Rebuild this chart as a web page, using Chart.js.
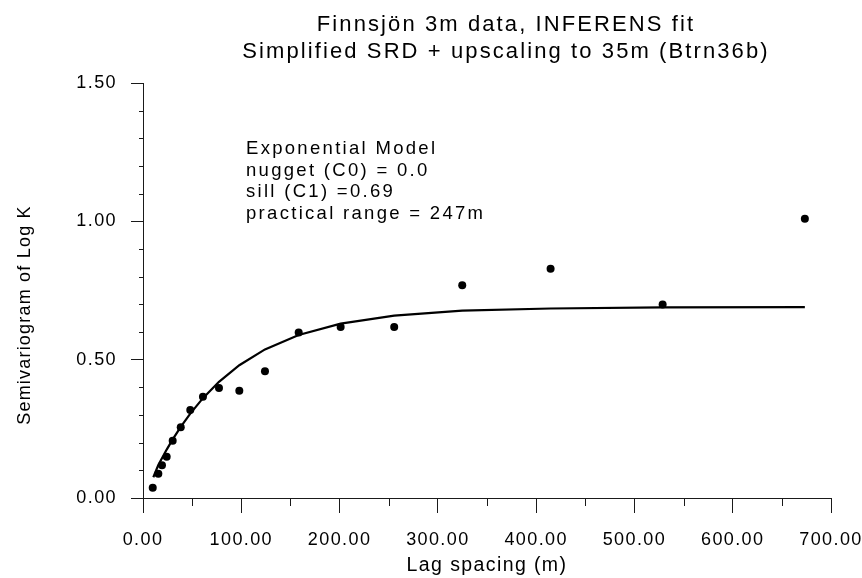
<!DOCTYPE html>
<html>
<head>
<meta charset="utf-8">
<script src="https://cdn.jsdelivr.net/npm/chart.js@4.4.1/dist/chart.umd.min.js"></script>
<style>
html,body{margin:0;padding:0;background:#ffffff;}
#wrap{width:862px;height:578px;}
</style>
</head>
<body>
<div id="wrap"><canvas id="c" width="862" height="578"></canvas></div>
<script>
// ---- data ----
const lagSpacing = [9.9, 15.6, 19.3, 24.1, 30.2, 38.4, 48.1, 61.0, 77.3, 98.0, 124.1, 158.4, 201.1, 255.6, 324.8, 414.7, 528.7, 673.4];
const semivariogram = [0.037, 0.088, 0.118, 0.149, 0.207, 0.256, 0.318, 0.366, 0.398, 0.388, 0.458, 0.598, 0.618, 0.618, 0.769, 0.829, 0.699, 1.009];
const modelLag = [10.5, 15.6, 19.3, 24.1, 30.2, 38.4, 48.1, 61.0, 77.3, 98.0, 124.1, 158.4, 201.1, 255.6, 324.8, 414.7, 528.7, 673.4];
const modelGamma = [0.075, 0.119, 0.144, 0.175, 0.212, 0.257, 0.305, 0.361, 0.420, 0.480, 0.537, 0.589, 0.630, 0.659, 0.677, 0.685, 0.689, 0.690];
const titleLines = ["Finnsjön 3m data, INFERENS fit", "Simplified SRD + upscaling to 35m (Btrn36b)"];
const annotationLines = ["Exponential Model", "nugget (C0) = 0.0", "sill (C1) =0.69", "practical range = 247m"];
const xAxisTitle = "Lag spacing (m)";
const yAxisTitle = "Semivariogram of Log K";
const xRange = [0, 700];
const yRange = [0, 1.5];

const FONT = '"Liberation Sans", Arial, Helvetica, sans-serif';
const INK = '#000000';
const AXIS = '#1a1a1a';

const decor = {
  id: 'decor',
  beforeDraw(chart) {
    chart.ctx.letterSpacing = '1.4px';
  },
  afterDraw(chart) {
    const ctx = chart.ctx;
    const xs = chart.scales.x, ys = chart.scales.y;
    ctx.save();
    // minor ticks
    ctx.strokeStyle = AXIS;
    ctx.lineWidth = 1;
    xs.ticks.forEach(t => {
      if (Math.round(t.value) % 100 !== 0) {
        const px = Math.round(xs.getPixelForValue(t.value)) + 0.5;
        ctx.beginPath(); ctx.moveTo(px, ys.bottom); ctx.lineTo(px, ys.bottom + 8); ctx.stroke();
      }
    });
    ys.ticks.forEach(t => {
      if (Math.round(t.value * 10) % 5 !== 0) {
        const py = Math.round(ys.getPixelForValue(t.value)) + 0.5;
        ctx.beginPath(); ctx.moveTo(xs.left - 4, py); ctx.lineTo(xs.left + 1, py); ctx.stroke();
      }
    });
    ctx.fillStyle = INK;
    // title
    ctx.letterSpacing = '2.1px';
    ctx.font = '22px ' + FONT;
    ctx.textAlign = 'center';
    ctx.textBaseline = 'alphabetic';
    ctx.fillText(titleLines[0], 506, 31);
    ctx.fillText(titleLines[1], 506, 58);
    // annotation
    ctx.letterSpacing = '2.3px';
    ctx.font = '18.5px ' + FONT;
    ctx.textAlign = 'left';
    annotationLines.forEach((s, i) => ctx.fillText(s, 246, 154 + i * 21.7));
    // y axis title
    ctx.letterSpacing = '1.2px';
    ctx.font = '18px ' + FONT;
    ctx.translate(25, 315);
    ctx.rotate(-Math.PI / 2);
    ctx.textAlign = 'center';
    ctx.textBaseline = 'middle';
    ctx.fillText(yAxisTitle, 0, 0);
    ctx.restore();
  }
};

new Chart(document.getElementById('c'), {
  type: 'scatter',
  data: {
    datasets: [
      {
        label: 'Exponential model',
        data: modelLag.map((v, i) => ({x: v, y: modelGamma[i]})),
        showLine: true,
        borderColor: INK,
        borderWidth: 2.2,
        pointRadius: 0,
        tension: 0,
        fill: false
      },
      {
        label: 'Experimental semivariogram',
        data: lagSpacing.map((v, i) => ({x: v, y: semivariogram[i]})),
        pointRadius: 4,
        pointBackgroundColor: '#000000',
        pointBorderWidth: 0,
        showLine: false
      }
    ]
  },
  options: {
    responsive: false,
    animation: false,
    devicePixelRatio: 1,
    layout: { padding: { top: 83, right: 31, left: 0, bottom: 0 } },
    plugins: {
      legend: { display: false },
      tooltip: { enabled: false },
      title: { display: false }
    },
    scales: {
      x: {
        type: 'linear',
        position: 'bottom',
        min: xRange[0],
        max: xRange[1],
        afterFit(s) { s.height = 80; s.paddingLeft = 0; s.paddingRight = 0; },
        ticks: {
          stepSize: 50,
          autoSkip: false,
          maxRotation: 0,
          padding: 16,
          color: INK,
          font: { family: FONT, size: 18 },
          callback: v => (Math.round(v) % 100 === 0 ? Number(v).toFixed(2) : '')
        },
        grid: {
          drawOnChartArea: false,
          drawTicks: true,
          tickLength: 15,
          tickWidth: 1,
          tickColor: c => (c.tick && Math.round(c.tick.value) % 100 === 0) ? AXIS : 'rgba(0,0,0,0)'
        },
        border: { display: true, color: AXIS, width: 1 },
        title: {
          display: true,
          text: xAxisTitle,
          color: INK,
          font: { family: FONT, size: 19.5 },
          padding: { top: 0, bottom: 1 }
        }
      },
      y: {
        type: 'linear',
        position: 'left',
        min: yRange[0],
        max: yRange[1],
        afterFit(s) { s.width = 143; s.paddingTop = 0; s.paddingBottom = 0; },
        ticks: {
          stepSize: 0.1,
          autoSkip: false,
          padding: 14,
          color: INK,
          font: { family: FONT, size: 18 },
          callback: v => (Math.round(v * 10) % 5 === 0 ? Number(v).toFixed(2) : '')
        },
        grid: {
          drawOnChartArea: false,
          drawTicks: true,
          tickLength: 12,
          tickWidth: 1,
          tickColor: c => (c.tick && Math.round(c.tick.value * 10) % 5 === 0) ? AXIS : 'rgba(0,0,0,0)'
        },
        border: { display: true, color: AXIS, width: 1 },
        title: { display: false }
      }
    }
  },
  plugins: [decor]
});
</script>
</body>
</html>
